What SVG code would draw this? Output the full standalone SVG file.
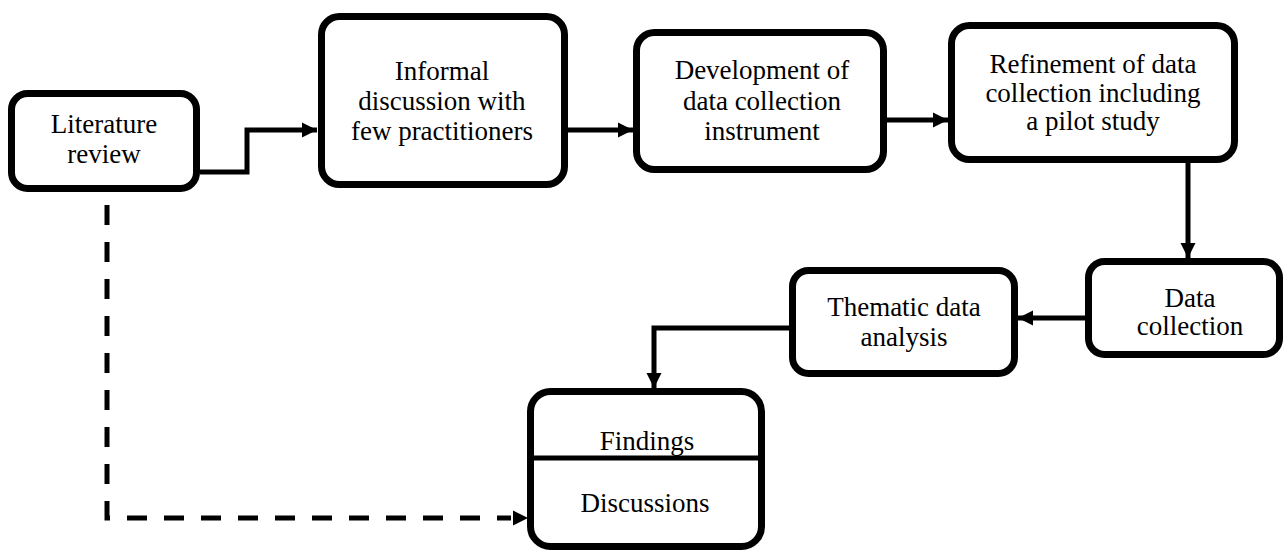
<svg xmlns="http://www.w3.org/2000/svg" width="1285" height="551" viewBox="0 0 1285 551">
  <style>
    .box { fill: #ffffff; stroke: #000000; stroke-width: 7; }
    .lbl { font-family: "Liberation Serif", "Times New Roman", serif; font-size: 27px; fill: #000000; text-anchor: middle; }
    .conn { fill: none; stroke: #000000; stroke-width: 5; }
    .dash { fill: none; stroke: #000000; stroke-width: 5; stroke-dasharray: 20 17; }
  </style>
  <defs>
    <marker id="arrow" markerUnits="userSpaceOnUse" markerWidth="16" markerHeight="16" viewBox="0 0 16 16" refX="15" refY="8" orient="auto">
      <path d="M0,0.5 L15,8 L0,15.5 Z" fill="#000000"/>
    </marker>
  </defs>
  <rect width="1285" height="551" fill="#ffffff"/>

  <g id="connectors">
    <path class="conn" d="M200,172 H247 V130 H317" marker-end="url(#arrow)"/>
    <path class="conn" d="M568,130 H633" marker-end="url(#arrow)"/>
    <path class="conn" d="M887,120 H948" marker-end="url(#arrow)"/>
    <path class="conn" d="M1188,163 V258" marker-end="url(#arrow)"/>
    <path class="conn" d="M1085,318 H1018" marker-end="url(#arrow)"/>
    <path class="conn" d="M789,328 H654 V388" marker-end="url(#arrow)"/>
    <path class="dash" d="M107,205 V518 H511"/>
    <path d="M513,510.5 L528,518 L513,525.5 Z" fill="#000000"/>
  </g>

  <g id="literature-review">
    <rect class="box" x="11.5" y="93.5" width="185" height="95" rx="16"/>
    <text class="lbl" x="104" y="133">Literature</text>
    <text class="lbl" x="104" y="163">review</text>
  </g>

  <g id="informal-discussion">
    <rect class="box" x="321.5" y="16.5" width="243" height="168" rx="18"/>
    <text class="lbl" x="442" y="80">Informal</text>
    <text class="lbl" x="442" y="110">discussion with</text>
    <text class="lbl" x="442" y="140">few practitioners</text>
  </g>

  <g id="development-instrument">
    <rect class="box" x="636.5" y="32.5" width="247" height="137" rx="18"/>
    <text class="lbl" x="762" y="79">Development of</text>
    <text class="lbl" x="762" y="110">data collection</text>
    <text class="lbl" x="762" y="140">instrument</text>
  </g>

  <g id="refinement-pilot">
    <rect class="box" x="951.5" y="25.5" width="283" height="134" rx="18"/>
    <text class="lbl" x="1093" y="73">Refinement of data</text>
    <text class="lbl" x="1093" y="102">collection including</text>
    <text class="lbl" x="1093" y="130">a pilot study</text>
  </g>

  <g id="data-collection">
    <rect class="box" x="1088.5" y="261.5" width="191" height="93" rx="16"/>
    <text class="lbl" x="1190" y="307">Data</text>
    <text class="lbl" x="1190" y="335">collection</text>
  </g>

  <g id="thematic-analysis">
    <rect class="box" x="792.5" y="270.5" width="222" height="103" rx="16"/>
    <text class="lbl" x="904" y="316">Thematic data</text>
    <text class="lbl" x="904" y="346">analysis</text>
  </g>

  <g id="findings-discussions">
    <rect class="box" x="530.5" y="391.5" width="231" height="155" rx="20"/>
    <line x1="531" y1="458" x2="761" y2="458" stroke="#000000" stroke-width="5"/>
    <text class="lbl" x="647" y="450">Findings</text>
    <text class="lbl" x="645" y="512">Discussions</text>
  </g>
</svg>
